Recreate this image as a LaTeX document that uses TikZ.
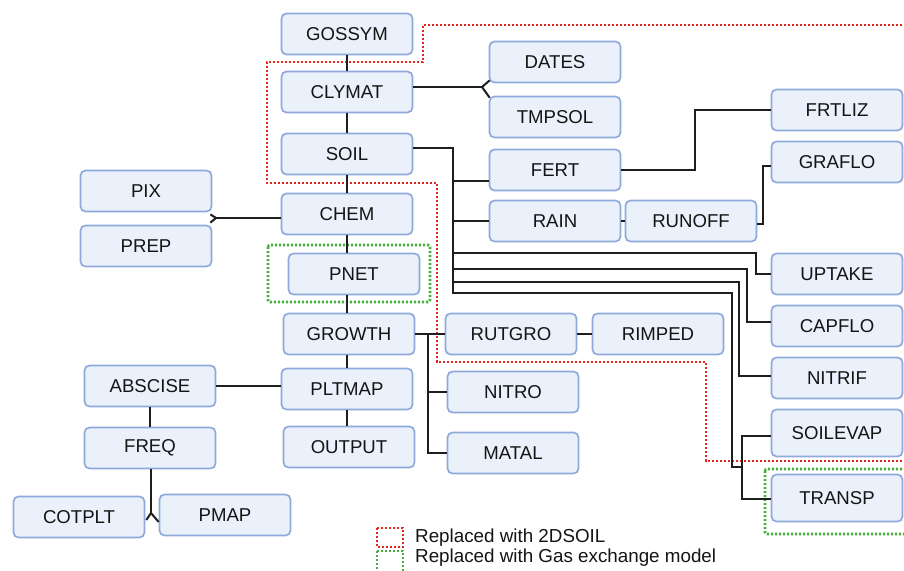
\documentclass[tikz,border=0pt]{standalone}
\usepackage{fontspec}
\setmainfont{Liberation Sans}
\usetikzlibrary{calc}
\definecolor{boxfill}{RGB}{234,241,250}
\definecolor{boxline}{RGB}{143,170,218}
\definecolor{connc}{RGB}{30,30,30}
\definecolor{redbox}{RGB}{228,38,30}
\definecolor{greenbox}{RGB}{72,175,60}
\begin{document}
\begin{tikzpicture}[x=1pt,y=-1pt,
  mbox/.style={draw=boxline, fill=boxfill, line width=1.7pt, rounded corners=5pt,
    minimum width=131pt, minimum height=41pt, inner sep=0pt,
    font=\fontsize{18.6}{20}\selectfont, text=black!92},
  tallbox/.style={mbox, minimum height=47pt},
  conn/.style={draw=connc, line width=2pt},
  reddot/.style={draw=redbox, line width=2.6pt, dash pattern=on 2.2pt off 1.8pt},
  greendot/.style={draw=greenbox, line width=2.6pt, dash pattern=on 2.2pt off 1.8pt},
  legtext/.style={anchor=west, inner sep=0pt, font=\fontsize{18.8}{20}\selectfont, text=black!92}]
\useasboundingbox (0,0) rectangle (904,570);

% dotted replacement regions
\draw[reddot] (910,25) -- (423,25) -- (423,62) -- (267,62) -- (267,183) -- (437,183)
  -- (437,362) -- (706,362) -- (706,461) -- (910,461);
\draw[greendot, rounded corners=2pt] (268,245) rectangle (430,302);
\draw[greendot, rounded corners=2pt] (765,469) rectangle (915,534);

% main column
\node[mbox] (GOSSYM) at (347,34) {GOSSYM};
\node[mbox] (CLYMAT) at (347,92) {CLYMAT};
\node[mbox] (SOIL) at (347,154) {SOIL};
\node[mbox] (CHEM) at (347,214) {CHEM};
\node[mbox] (PNET) at (354,274) {PNET};
\node[mbox] (GROWTH) at (349,334) {GROWTH};
\node[mbox] (PLTMAP) at (347,389) {PLTMAP};
\node[mbox] (OUTPUT) at (349,447) {OUTPUT};

% left side
\node[mbox] (PIX) at (146,191) {PIX};
\node[mbox] (PREP) at (146,246) {PREP};
\node[mbox] (ABSCISE) at (150,386) {ABSCISE};
\node[mbox] (FREQ) at (150,448) {FREQ};
\node[mbox] (COTPLT) at (79,517) {COTPLT};
\node[mbox] (PMAP) at (225,515) {PMAP};

% middle
\node[mbox] (DATES) at (555,62) {DATES};
\node[mbox] (TMPSOL) at (555,117) {TMPSOL};
\node[mbox] (FERT) at (555,170) {FERT};
\node[mbox] (RAIN) at (555,221) {RAIN};
\node[mbox] (RUNOFF) at (691,221) {RUNOFF};
\node[mbox] (RUTGRO) at (511,334) {RUTGRO};
\node[mbox] (RIMPED) at (658,334) {RIMPED};
\node[mbox] (NITRO) at (513,392) {NITRO};
\node[mbox] (MATAL) at (513,453) {MATAL};

% right column
\node[mbox] (FRTLIZ) at (837,110) {FRTLIZ};
\node[mbox] (GRAFLO) at (837,162) {GRAFLO};
\node[mbox] (UPTAKE) at (837,274) {UPTAKE};
\node[mbox] (CAPFLO) at (837,326) {CAPFLO};
\node[mbox] (NITRIF) at (837,378) {NITRIF};
\node[tallbox] (SOILEVAP) at (837,433) {SOILEVAP};
\node[tallbox] (TRANSP) at (837,498) {TRANSP};

% spine
\draw[conn] (GOSSYM.south) -- (GOSSYM.south |- CLYMAT.north);
\draw[conn] (CLYMAT.south) -- (CLYMAT.south |- SOIL.north);
\draw[conn] (SOIL.south) -- (SOIL.south |- CHEM.north);
\draw[conn] (CHEM.south) -- (CHEM.south |- PNET.north);
\draw[conn] (CHEM.south |- PNET.south) -- (CHEM.south |- GROWTH.north);
\draw[conn] (PLTMAP.north) -- (PLTMAP.north |- GROWTH.south);
\draw[conn] (PLTMAP.south) -- (PLTMAP.south |- OUTPUT.north);

% CLYMAT fork
\coordinate (cf) at (482,87);
\draw[conn] ($(CLYMAT.east)+(0,-5)$) -- (cf);
\draw[conn] (cf) -- ($(DATES.south west)+(1,-3)$);
\draw[conn] (cf) -- ($(TMPSOL.north west)+(1,2)$);

% CHEM fork
\coordinate (hf) at (216,218);
\draw[conn] ($(CHEM.west)+(0,4)$) -- (hf);
\draw[conn] (hf) -- ($(PIX.south east)+(-2,2)$);
\draw[conn] (hf) -- ($(PREP.north east)+(-2,-2)$);

% PLTMAP - ABSCISE - FREQ
\draw[conn] (ABSCISE.east) -- (ABSCISE.east -| PLTMAP.west);
\draw[conn] (ABSCISE.south) -- (FREQ.north);
\coordinate (ff) at (151,513);
\draw[conn] (FREQ.south -| ff) -- (ff);
\draw[conn] (ff) -- ($(COTPLT.east)+(1,3)$);
\draw[conn] (ff) -- ($(PMAP.west)+(0,7)$);

% SOIL trunk
\draw[conn] ($(SOIL.east)+(0,-6)$) -- (453,148) -- (453,293) -- (732,293) -- (732,467) -- (742,467);
\draw[conn] (453,181) -- (FERT.west |- 0,181);
\draw[conn] (453,221) -- (RAIN.west);
\draw[conn] (453,253) -- (756,253) |- (UPTAKE.west);
\draw[conn] (453,269) -- (747,269) |- ($(CAPFLO.west)+(0,-4)$);
\draw[conn] (453,282) -- (739,282) |- ($(NITRIF.west)+(0,-2)$);
\draw[conn] ($(SOILEVAP.west)+(0,3)$) -- (742,436) |- ($(TRANSP.west)+(0,1)$);

% FERT / RAIN
\draw[conn] (FERT.east) -- (695,170) |- (FRTLIZ.west);
\draw[conn] (RAIN) -- (RUNOFF);
\draw[conn] ($(RUNOFF.east)+(0,3)$) -- (763,224) |- ($(GRAFLO.west)+(0,4)$);

% GROWTH branches
\draw[conn] (GROWTH.east) -- (RUTGRO.west);
\draw[conn] (428,334) |- (NITRO.west);
\draw[conn] (428,334) |- (MATAL.west);
\draw[conn] (RUTGRO) -- (RIMPED);

% legend
\draw[reddot] (377,528) rectangle (403,547);
\draw[greendot] (377,551) rectangle (403,572);
\node[legtext] (leg1) at (415,537.5) {Replaced with 2DSOIL};
\node[legtext] (leg2) at (415,558) {Replaced with Gas exchange model};
\end{tikzpicture}
\end{document}
